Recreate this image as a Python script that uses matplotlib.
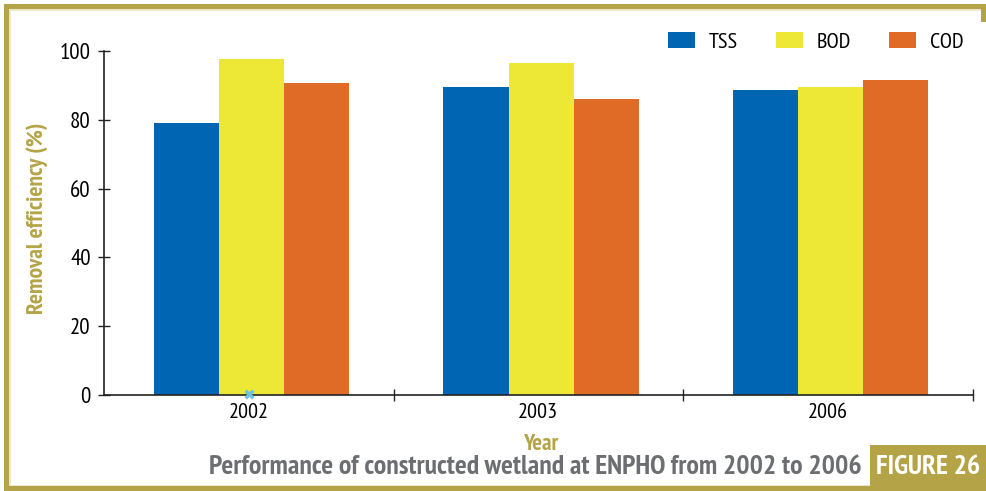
import matplotlib
matplotlib.use("Agg")
import matplotlib.pyplot as plt
from matplotlib.patches import Rectangle, Patch
import numpy as np

years = ["2002", "2003", "2006"]
series_names = ["TSS", "BOD", "COD"]
tss = [79, 89.5, 88.7]
bod = [97.7, 96.5, 89.5]
cod = [90.7, 86, 91.6]
series_values = [tss, bod, cod]
yticks = [0, 20, 40, 60, 80, 100]

colors = ["#0066b3", "#ece835", "#df6b27"]
olive = "#b5a447"
gray_title = "#6d6e71"
FONT = ["PT Sans Narrow", "DejaVu Sans"]
plt.rcParams["font.family"] = FONT

W, H = 986, 491
fig = plt.figure(figsize=(W / 100, H / 100), dpi=100)
fig.patch.set_facecolor("white")

def fx(px):
    return px / W

def fy(py):
    return 1 - py / H

ax = fig.add_axes([fx(104), fy(395), fx(972.5) - fx(104), fy(51) - fy(395)])
x = np.arange(len(years))
bw = 0.225
for i, (name, vals) in enumerate(zip(series_names, series_values)):
    ax.bar(x + (i - 1) * bw + 0.01, vals, width=bw, color=colors[i], label=name, zorder=2)

# stray marker in original
ax.scatter([x[0]], [0.3], marker="x", color="#6cc3e0", s=30, linewidths=2.5, zorder=3, clip_on=False)

ax.set_xlim(-0.5, len(years) - 0.5)
ax.set_ylim(0, 100)
ax.set_yticks(yticks)
ax.set_xticks(x)
ax.set_xticklabels(years)
ax.set_xticks([0.5, 1.5, 2.5], minor=True)
ax.tick_params(axis="x", which="major", length=0, pad=6, labelsize=16)
ax.tick_params(axis="x", which="minor", direction="inout", length=9, width=1.0, color="#222222")
ax.tick_params(axis="y", direction="inout", length=9, width=1.0, color="#222222", labelsize=16.5, pad=5)
for s in ["top", "right"]:
    ax.spines[s].set_visible(False)
for s in ["left", "bottom"]:
    ax.spines[s].set_color("#222222")
    ax.spines[s].set_linewidth(1.2)

ax.set_ylabel("Removal efficiency (%)", color=olive, fontsize=17, fontweight="bold")
ax.yaxis.set_label_coords((48 - 104) / 868.5, (395 - 218) / 344)

fig.text(fx(541), fy(444), "Year", color=olive, fontsize=16.5, fontweight="bold", ha="center", va="center")

fig.text(fx(862), fy(467), "Performance of constructed wetland at ENPHO from 2002 to 2006",
         color=gray_title, fontsize=20, fontweight="bold", ha="right", va="center")

# Figure label box
fig.patches.append(Rectangle((fx(870), 0), fx(986) - fx(870), fy(445), transform=fig.transFigure,
                             facecolor=olive, edgecolor="none", zorder=5))
fig.text(fx(928), fy(467), "FIGURE 26", color="white", fontsize=20, fontweight="bold",
         ha="center", va="center", zorder=6)

# Frame
def rect(x0, y0, x1, y1, color, z=4):
    fig.patches.append(Rectangle((fx(x0), fy(y1)), fx(x1) - fx(x0), fy(y0) - fy(y1),
                                 transform=fig.transFigure, facecolor=color, edgecolor="none", zorder=z))

rect(4, 4, 986, 9, olive)          # top
rect(4, 4, 9, 491, olive)          # left
rect(4, 486, 870, 491, olive)      # bottom
rect(981, 4, 986, 22, olive)       # right stub
rect(9, 9, 981, 10.5, "#ece8c8", 3)   # inner light lines
rect(9, 9, 10.5, 486, "#ece8c8", 3)
rect(9, 484.5, 870, 486, "#ece8c8", 3)

handles = [Patch(facecolor=c, edgecolor="none", label=n) for c, n in zip(colors, series_names)]
leg = fig.legend(handles=handles, loc="center right", bbox_to_anchor=(fx(964), fy(42)), ncol=3,
                 frameon=False, fontsize=16, handlelength=1.22, handleheight=0.72,
                 handletextpad=0.63, columnspacing=1.7, borderaxespad=0, borderpad=0)

fig.savefig("out.png", dpi=100)
